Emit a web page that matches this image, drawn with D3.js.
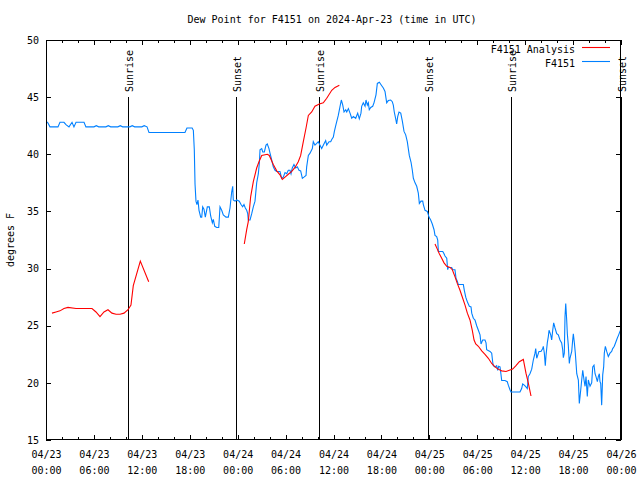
<!DOCTYPE html>
<html><head><meta charset="utf-8">
<script src="https://cdn.jsdelivr.net/npm/d3@7"></script>
<style>body{margin:0;background:#fff}svg{display:block}</style>
</head><body>
<svg id="c" width="640" height="480"></svg>
<script>
// ---- data (hours since 2024-04-23 00:00 UTC) ----
const blueHours = [0,0.19,0.5,1.5,1.75,2.25,2.5,2.88,3.26,3.5,3.76,4.76,5.0,6.0,6.3,6.6,7.5,7.8,8.1,9.0,9.3,9.6,10.5,10.8,11.1,12.0,12.3,12.65,12.9,17.4,17.65,18.3,18.45,18.57,18.66,18.78,18.9,19.03,19.16,19.37,19.5,19.62,19.78,19.95,20.2,20.45,20.62,20.83,20.95,21.13,21.38,21.63,21.79,22.0,22.2,22.54,22.83,23.04,23.25,23.38,23.45,23.67,23.88,24.2,24.42,24.63,24.79,24.96,25.13,25.26,25.33,25.55,25.76,25.96,26.17,26.38,26.59,26.71,26.8,27.01,27.14,27.34,27.55,27.71,27.92,28.05,28.26,28.46,28.68,28.89,29.3,29.51,29.71,29.93,30.14,30.34,30.55,30.68,30.84,31.05,31.27,31.47,31.68,31.89,32.1,32.3,32.56,32.64,32.85,33.06,33.35,33.47,33.68,33.9,34.1,34.31,34.52,34.72,35.02,35.15,35.44,35.65,35.78,35.98,36.11,36.31,36.6,36.82,36.98,37.16,37.32,37.53,37.66,37.86,38.07,38.28,38.48,38.78,39.03,39.23,39.44,39.53,39.73,39.95,40.07,40.24,40.36,40.48,40.66,40.91,41.07,41.32,41.49,41.74,42.04,42.24,42.45,42.66,42.86,43.16,43.36,43.49,43.61,43.79,43.91,44.04,44.2,44.42,44.62,44.83,45.04,45.24,45.49,45.71,45.87,46.0,46.21,46.42,46.62,46.75,46.96,47.17,47.25,47.46,47.75,47.96,48.17,48.37,48.59,48.71,48.92,49.05,49.13,49.34,49.68,49.84,49.96,50.18,50.3,50.38,50.59,50.8,50.93,51.21,51.34,51.5,51.63,52.26,52.38,52.56,52.68,52.81,53.01,53.22,53.31,53.51,53.72,53.93,54.14,54.35,54.47,54.68,54.97,55.1,55.18,55.6,55.81,55.93,56.01,56.22,56.43,56.56,56.68,56.85,56.97,57.06,57.47,57.76,57.89,58.1,58.22,59.35,59.56,59.69,59.89,60.1,60.27,60.39,60.6,60.82,61.02,61.23,61.32,61.45,61.57,61.73,61.98,62.2,62.27,62.4,62.52,62.61,62.77,62.9,62.99,63.2,63.32,63.45,63.57,63.74,63.95,64.15,64.36,64.57,64.7,64.78,64.9,64.99,65.08,65.2,65.28,65.4,65.53,65.61,65.83,65.95,66.03,66.16,66.28,66.46,66.66,66.78,66.96,67.08,67.21,67.37,67.5,67.62,67.78,67.91,68.12,68.33,68.46,68.62,68.75,68.87,69.04,69.16,69.29,69.37,69.46,69.58,69.71,69.83,69.91,70.04,70.21,70.41,70.62,70.83,70.96,71.16,71.37,71.53,71.71,71.87,72.0];
const blueValues = [42.8,42.8,42.4,42.4,42.8,42.8,42.6,42.4,42.8,42.4,42.8,42.8,42.4,42.4,42.5,42.4,42.4,42.5,42.4,42.4,42.5,42.4,42.4,42.5,42.4,42.4,42.5,42.4,41.9,41.9,42.3,42.3,42.1,40.4,37.4,35.9,35.6,36.0,35.1,34.5,34.5,35.4,35.2,34.5,35.4,35.4,34.6,34.0,34.3,33.7,33.6,33.6,35.4,35.1,34.7,34.5,34.5,35.3,36.7,37.2,36.0,35.9,36.0,35.9,35.6,35.4,35.6,35.3,35.1,34.8,34.25,34.25,34.8,35.4,35.9,37.5,38.3,39.2,40.4,40.5,40.2,40.2,40.8,40.9,40.5,40.1,39.5,38.9,38.6,38.5,38.5,37.9,38.0,38.4,38.3,38.6,38.6,38.3,38.8,39.1,38.8,38.9,38.6,38.55,37.9,38.0,38.15,38.9,39.9,40.1,40.5,41.1,40.8,40.95,41.1,40.8,40.5,40.8,41.2,40.8,41.1,41.1,41.3,41.5,42.0,42.6,43.4,44.2,44.75,44.3,43.7,43.9,43.7,44.0,43.6,43.15,43.3,43.15,43.6,43.1,43.6,44.2,44.5,44.2,44.75,44.3,44.5,43.9,44.1,44.2,44.5,45.2,46.2,46.3,46.0,45.8,45.5,44.5,44.7,44.75,44.6,44.3,43.7,43.1,42.65,43.3,43.7,43.6,42.9,42.0,41.7,41.1,39.9,39.3,38.6,37.9,37.5,37.2,36.6,35.7,35.9,35.9,35.6,35.1,35.0,34.5,34.25,33.9,33.4,32.9,32.8,32.5,31.5,31.5,31.5,31.3,31.1,30.9,29.9,30.1,30.1,30.1,29.9,29.9,29.15,28.9,28.6,28.6,28.1,27.5,27.25,27.0,26.7,26.65,26.1,25.65,25.5,25.0,24.6,24.2,23.4,23.75,23.75,23.5,22.9,22.75,22.6,21.85,21.5,21.4,21.5,21.1,21.45,21.4,20.75,20.2,20.2,20.1,19.8,19.4,19.2,19.2,19.5,19.9,19.8,19.65,19.5,20.55,20.8,21.2,22.0,22.6,23.0,22.15,22.4,22.75,22.75,23.0,23.2,22.6,21.5,22.4,23.5,24.05,24.6,24.2,23.75,24.6,25.25,24.8,24.3,24.2,23.75,23.5,22.9,22.2,22.6,25.8,26.95,25.5,24.3,23.3,21.7,22.15,22.75,23.75,24.3,23.5,22.6,20.8,20.25,18.2,19.4,20.25,21.1,20.25,19.7,20.55,18.8,20.25,19.7,20.0,21.4,21.55,20.8,20.55,20.1,20.55,20.8,20.1,19.95,18.05,20.7,21.4,22.6,23.2,22.75,22.3,22.6,22.75,23.0,23.2,23.6,23.9,24.2,24.5,24.7];

// analysis: null separates segments
const redHours = [0.75,1.25,1.75,2.25,2.75,3.76,4.76,5.76,6.26,6.76,7.26,7.76,8.26,8.77,9.27,9.77,10.27,10.64,10.93,11.81,12.86,null,
 24.83,25.13,25.33,25.63,25.96,26.38,26.67,27.01,27.71,27.96,28.46,28.89,29.3,29.59,29.93,30.34,30.77,31.18,31.59,31.89,32.22,32.56,32.85,33.27,33.68,34.22,34.72,35.15,35.78,36.19,36.73,null,
 48.71,49.0,49.25,49.55,49.84,50.18,50.59,50.88,51.21,51.5,51.84,52.18,52.47,52.76,53.09,53.38,53.6,53.81,54.14,54.56,54.97,55.39,55.81,56.22,56.63,57.06,57.6,58.02,58.44,58.85,59.27,59.77,60.1,60.39,60.73];
const redValues = [26.1,26.2,26.3,26.5,26.6,26.5,26.5,26.5,26.2,25.8,26.2,26.4,26.1,26.0,26.0,26.1,26.4,26.8,28.5,30.65,28.85,null,
 32.15,33.4,34.1,36.3,37.6,38.8,39.35,39.9,40.0,39.9,39.1,38.55,38.2,37.8,38.0,38.25,38.5,38.85,39.35,39.9,41.1,42.3,43.4,43.7,44.2,44.4,44.5,44.9,45.6,45.85,46.05,null,
 32.15,31.7,31.3,30.9,30.5,30.2,30.1,29.9,29.3,28.7,28.1,27.4,26.8,26.1,25.5,24.6,23.75,23.4,23.2,22.8,22.5,22.15,21.7,21.4,21.2,21.05,21.0,21.1,21.2,21.5,21.85,22.05,20.85,20.0,18.85];

const sunLabels = ["Sunrise","Sunset","Sunrise","Sunset","Sunrise","Sunset"];
const sunHours = [10.27,23.79,34.18,47.83,58.23,71.94];

const yTicks = [15,20,25,30,35,40,45,50];
const seriesNames = ["F4151 Analysis","F4151"];
const seriesColors = ["#ff0000","#0080ff"];
const titleText = "Dew Point for F4151 on 2024-Apr-23 (time in UTC)";
const yLabelText = "degrees F";

// ---- chart ----
const base = Date.UTC(2024,3,23);
const toDate = h => new Date(base + h*3600000);
const FONT = "'DejaVu Sans Mono', monospace";
const L=46,R=621,T=40,B=440;
const svg = d3.select("#c");
const x = d3.scaleUtc().domain([toDate(0),toDate(72)]).range([L,R]);
const y = d3.scaleLinear().domain([15,50]).range([B,T]);

const majorT = d3.range(0,73,6).map(toDate);
const minorT = d3.range(0,73,2).filter(h=>h%6!==0).map(toDate);

function styleAxis(g){
  g.select(".domain").remove();
  g.selectAll("line").attr("stroke","#000").attr("shape-rendering","crispEdges");
  g.attr("font-family",FONT).attr("font-size",10);
}
// bottom major
const gb = svg.append("g").attr("transform",`translate(0,${B})`)
  .call(d3.axisBottom(x).tickValues(majorT).tickSizeInner(-5).tickSizeOuter(0).tickFormat(d3.utcFormat("%m/%d")));
styleAxis(gb);
gb.selectAll("text").each(function(d){
  const t=d3.select(this); t.attr("dy",null).attr("y",null).text(null).attr("fill","#000");
  t.append("tspan").attr("x",0).attr("y",18).text(d3.utcFormat("%m/%d")(d));
  t.append("tspan").attr("x",0).attr("y",34).text(d3.utcFormat("%H:%M")(d));
});
svg.append("g").attr("transform",`translate(0,${B})`)
  .call(d3.axisBottom(x).tickValues(minorT).tickSizeInner(-3).tickSizeOuter(0).tickFormat(""))
  .call(styleAxis);
// top
svg.append("g").attr("transform",`translate(0,${T})`)
  .call(d3.axisTop(x).tickValues(majorT).tickSizeInner(-5).tickSizeOuter(0).tickFormat(""))
  .call(styleAxis);
svg.append("g").attr("transform",`translate(0,${T})`)
  .call(d3.axisTop(x).tickValues(minorT).tickSizeInner(-3).tickSizeOuter(0).tickFormat(""))
  .call(styleAxis);
// left / right
const gl = svg.append("g").attr("transform",`translate(${L},0)`)
  .call(d3.axisLeft(y).tickValues(yTicks).tickSizeInner(-5).tickSizeOuter(0).tickPadding(7).tickFormat(d3.format("d")));
styleAxis(gl); gl.selectAll("text").attr("fill","#000");
svg.append("g").attr("transform",`translate(${R},0)`)
  .call(d3.axisRight(y).tickValues(yTicks).tickSizeInner(-5).tickSizeOuter(0).tickFormat(""))
  .call(styleAxis);

// clip
svg.append("clipPath").attr("id","clip").append("rect").attr("x",L).attr("y",T).attr("width",R-L).attr("height",B-T);

// sun lines
const sun = svg.append("g");
sunHours.forEach((h,i)=>{
  const xx = Math.round(x(toDate(h)))+0.5;
  sun.append("line").attr("x1",xx).attr("x2",xx).attr("y1",97).attr("y2",B).attr("stroke","#000").attr("stroke-width",1);
  sun.append("text").attr("transform",`translate(${xx+4},92) rotate(-90)`).attr("text-anchor","start")
    .attr("font-family",FONT).attr("font-size",10).text(sunLabels[i]);
});

// lines
const line = d3.line().defined(d=>d[1]!=null).x(d=>x(toDate(d[0]))).y(d=>y(d[1]));
const redData = redHours.map((h,i)=>[h,redValues[i]]);
const blueData = blueHours.map((h,i)=>[h,blueValues[i]]);
const pg = svg.append("g").attr("clip-path","url(#clip)");
pg.append("path").datum(blueData).attr("d",line).attr("fill","none").style("stroke",seriesColors[1]).attr("stroke-width",1.1);
pg.append("path").datum(redData).attr("d",line).attr("fill","none").style("stroke",seriesColors[0]).attr("stroke-width",1.1);

// border
svg.append("rect").attr("x",L+0.5).attr("y",T+0.5).attr("width",R-L-1).attr("height",B-T-1)
  .attr("fill","none").attr("stroke","#000").attr("stroke-width",1);

// legend
const leg = svg.append("g").attr("font-family",FONT).attr("font-size",10);
seriesNames.forEach((n,i)=>{
  const yy = 49 + i*14;
  leg.append("text").attr("x",575).attr("y",yy+4).attr("text-anchor","end").attr("fill","#000").text(n);
  leg.append("line").attr("x1",582).attr("x2",610).attr("y1",yy-1.5).attr("y2",yy-1.5)
    .style("stroke",seriesColors[i]).style("stroke-width","1.1px");
});

// title & y label
svg.append("text").attr("x",332).attr("y",23).attr("text-anchor","middle").attr("font-family",FONT).attr("font-size",10).text(titleText);
svg.append("text").attr("transform","translate(14,240) rotate(-90)").attr("text-anchor","middle").attr("font-family",FONT).attr("font-size",10).text(yLabelText);
</script>
</body></html>
